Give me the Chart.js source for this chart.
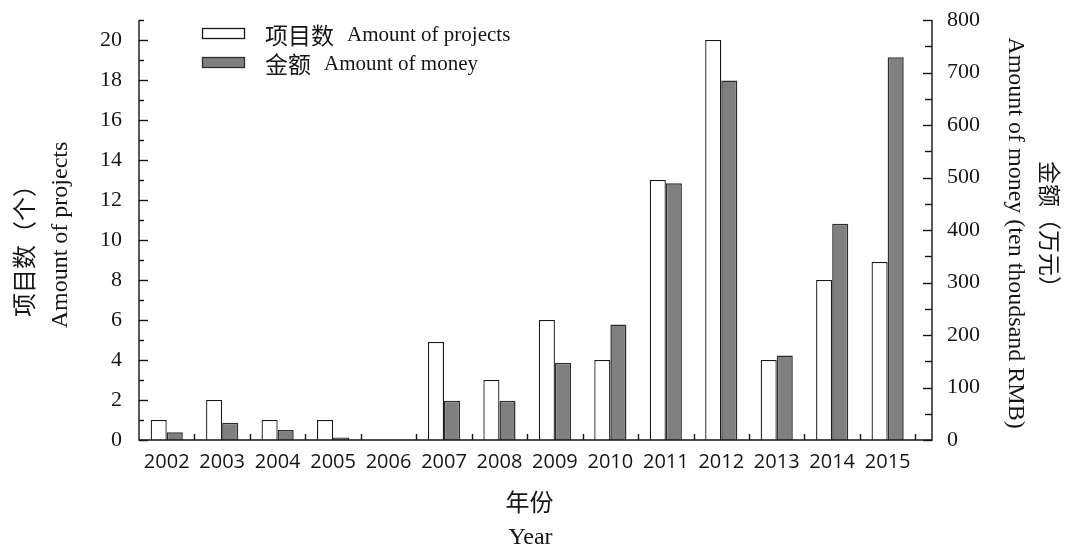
<!DOCTYPE html>
<html>
<head>
<meta charset="utf-8">
<script src="https://cdn.jsdelivr.net/npm/chart.js@4/dist/chart.umd.min.js"></script>
<style>
  html, body { margin: 0; padding: 0; background: #fff; }
  #wrap { width: 1067px; height: 547px; }
  canvas { display: block; }
</style>
</head>
<body>
<div id="wrap"><canvas id="chart" width="1067" height="547"></canvas></div>
<script>
// Funded projects per year and their total amount (ten thousand RMB)
const years = ['2002', '2003', '2004', '2005', '2006', '2007', '2008', '2009', '2010', '2011', '2012', '2013', '2014', '2015'];
const projectCounts = [1, 2, 1, 1, 0, 4.9, 3, 6, 4, 13, 20, 4, 8, 8.9];
const moneyAmounts = [15, 33, 19, 5, 0, 75, 75, 147, 220, 489, 685, 161, 412, 729];

const seriesLabels = ['项目数 Amount of projects', '金额 Amount of money'];
const xTitle = ['年份', 'Year'];
const leftTitle = ['项目数（个）', 'Amount of projects'];
const rightTitle = ['Amount of money (ten thoudsand RMB)', '金额（万元）'];

const SERIF = '"Liberation Serif", "Times New Roman", serif';
const CJK = '"Noto Sans CJK SC", sans-serif';
const INK = '#151515';

// Fixed axis widths; label half-heights must not push the plot area down
const fixWidth = (w) => (s) => { s.width = w; s.paddingTop = 0; s.paddingBottom = 0; };

// Axis frame with inward tick marks, drawn over the bars
const framePlugin = {
  id: 'frameTicks',
  afterDatasetsDraw(chart) {
    const { ctx, chartArea: { left, right, top, bottom }, scales: { x, yL, yR } } = chart;
    const seg = (x1, y1, x2, y2) => { ctx.beginPath(); ctx.moveTo(x1, y1); ctx.lineTo(x2, y2); ctx.stroke(); };
    ctx.save();
    ctx.strokeStyle = INK;
    ctx.lineWidth = 1.4;
    ctx.beginPath();
    ctx.moveTo(left, top);
    ctx.lineTo(left, bottom);
    ctx.lineTo(right, bottom);
    ctx.lineTo(right, top);
    ctx.stroke();
    for (let v = yL.min; v <= yL.max; v += 1) {
      const py = Math.round(yL.getPixelForValue(v)) + 0.5;
      seg(left, py, left + (v % 2 === 0 ? 9 : 5), py);
    }
    for (let v = yR.min; v <= yR.max; v += 50) {
      const py = Math.round(yR.getPixelForValue(v)) + 0.5;
      seg(right - (v % 100 === 0 ? 9 : 7), py, right, py);
    }
    for (let i = 0; i < years.length; i++) {
      const px = Math.round(x.getPixelForValue(i + 0.5)) + 0.5;
      seg(px, bottom, px, bottom - 6);
    }
    ctx.restore();
  }
};

// Legend inside the plot and the two-line axis titles
const textPlugin = {
  id: 'titlesLegend',
  afterDraw(chart) {
    const { ctx, chartArea: { left, right, top, bottom } } = chart;
    ctx.save();
    ctx.fillStyle = INK;
    ctx.textBaseline = 'middle';

    // legend
    chart.data.datasets.forEach((ds, i) => {
      const bx = left + 63, by = top + 8 + i * 29;
      ctx.fillStyle = ds.backgroundColor;
      ctx.fillRect(bx, by, 43, 11);
      ctx.strokeStyle = ds.borderColor;
      ctx.lineWidth = 1.3;
      ctx.strokeRect(bx + 0.5, by + 0.5, 42, 10);
      const cut = ds.label.indexOf(' ');
      const cn = ds.label.slice(0, cut), en = ds.label.slice(cut + 1);
      ctx.fillStyle = INK;
      ctx.textAlign = 'left';
      ctx.font = '23px ' + CJK;
      const tx = left + 126, ty = by + 7;
      ctx.fillText(cn, tx, ty);
      const w = ctx.measureText(cn).width;
      ctx.font = '21px ' + SERIF;
      ctx.fillText(en, tx + w + 13, ty);
    });

    const cx = (left + right) / 2;
    const cy = (top + bottom) / 2;
    ctx.textAlign = 'center';

    // x title
    ctx.font = '24px ' + CJK;
    ctx.fillText(xTitle[0], cx - 6, bottom + 62);
    ctx.font = '24px ' + SERIF;
    ctx.fillText(xTitle[1], cx - 5, bottom + 98);

    // left title (reads bottom to top)
    ctx.save();
    ctx.translate(24, cy + 15);
    ctx.rotate(-Math.PI / 2);
    ctx.font = '24px ' + CJK;
    ctx.fillText(leftTitle[0], 0, 0);
    ctx.restore();
    ctx.save();
    ctx.translate(61, cy + 5);
    ctx.rotate(-Math.PI / 2);
    ctx.font = '24px ' + SERIF;
    ctx.fillText(leftTitle[1], 0, 0);
    ctx.restore();

    // right title (reads top to bottom)
    ctx.save();
    ctx.translate(right + 83, cy + 3);
    ctx.rotate(Math.PI / 2);
    ctx.font = '24px ' + SERIF;
    ctx.fillText(rightTitle[0], 0, 0);
    ctx.restore();
    ctx.save();
    ctx.translate(right + 118, cy);
    ctx.rotate(Math.PI / 2);
    ctx.font = '23px ' + CJK;
    ctx.fillText(rightTitle[1], 0, 0);
    ctx.restore();

    ctx.restore();
  }
};

new Chart(document.getElementById('chart'), {
  type: 'bar',
  data: {
    datasets: [
      {
        label: seriesLabels[0],
        data: projectCounts.map((v, i) => ({ x: i, y: v })),
        yAxisID: 'yL',
        backgroundColor: '#ffffff',
        borderColor: '#1a1a1a',
        borderWidth: 1.3,
        borderSkipped: 'bottom',
        categoryPercentage: 0.58,
        barPercentage: 1.0
      },
      {
        label: seriesLabels[1],
        data: moneyAmounts.map((v, i) => ({ x: i, y: v })),
        yAxisID: 'yR',
        backgroundColor: '#808080',
        borderColor: '#2e2e2e',
        borderWidth: 1.5,
        borderSkipped: 'bottom',
        categoryPercentage: 0.58,
        barPercentage: 1.0
      }
    ]
  },
  options: {
    responsive: false,
    animation: false,
    devicePixelRatio: 1,
    layout: { autoPadding: false, padding: { top: 20, left: 0, right: 0, bottom: 0 } },
    plugins: { legend: { display: false }, tooltip: { enabled: false } },
    scales: {
      x: {
        type: 'linear',
        offset: false,
        min: -0.5,
        max: 13.8,
        grid: { display: false, drawTicks: false, offset: false },
        border: { display: false },
        afterBuildTicks: (s) => { s.ticks = years.map((_, i) => ({ value: i })); },
        afterFit: (s) => { s.height = 107; s.paddingLeft = 0; s.paddingRight = 0; },
        ticks: {
          autoSkip: false,
          maxRotation: 0,
          padding: 10,
          color: INK,
          font: { family: '"Open Sans", sans-serif', size: 20 },
          callback: (v) => years[Math.round(v)]
        }
      },
      yL: {
        type: 'linear',
        position: 'left',
        min: 0,
        max: 21,
        grid: { display: false, drawTicks: false },
        border: { display: false },
        afterFit: fixWidth(139),
        ticks: {
          stepSize: 2,
          includeBounds: false,
          padding: 17,
          color: INK,
          font: { family: SERIF, size: 22 }
        }
      },
      yR: {
        type: 'linear',
        position: 'right',
        min: 0,
        max: 800,
        grid: { display: false, drawTicks: false },
        border: { display: false },
        afterFit: fixWidth(135),
        ticks: {
          stepSize: 100,
          padding: 15,
          color: INK,
          font: { family: SERIF, size: 22 }
        }
      }
    }
  },
  plugins: [framePlugin, textPlugin]
});
</script>
</body>
</html>
